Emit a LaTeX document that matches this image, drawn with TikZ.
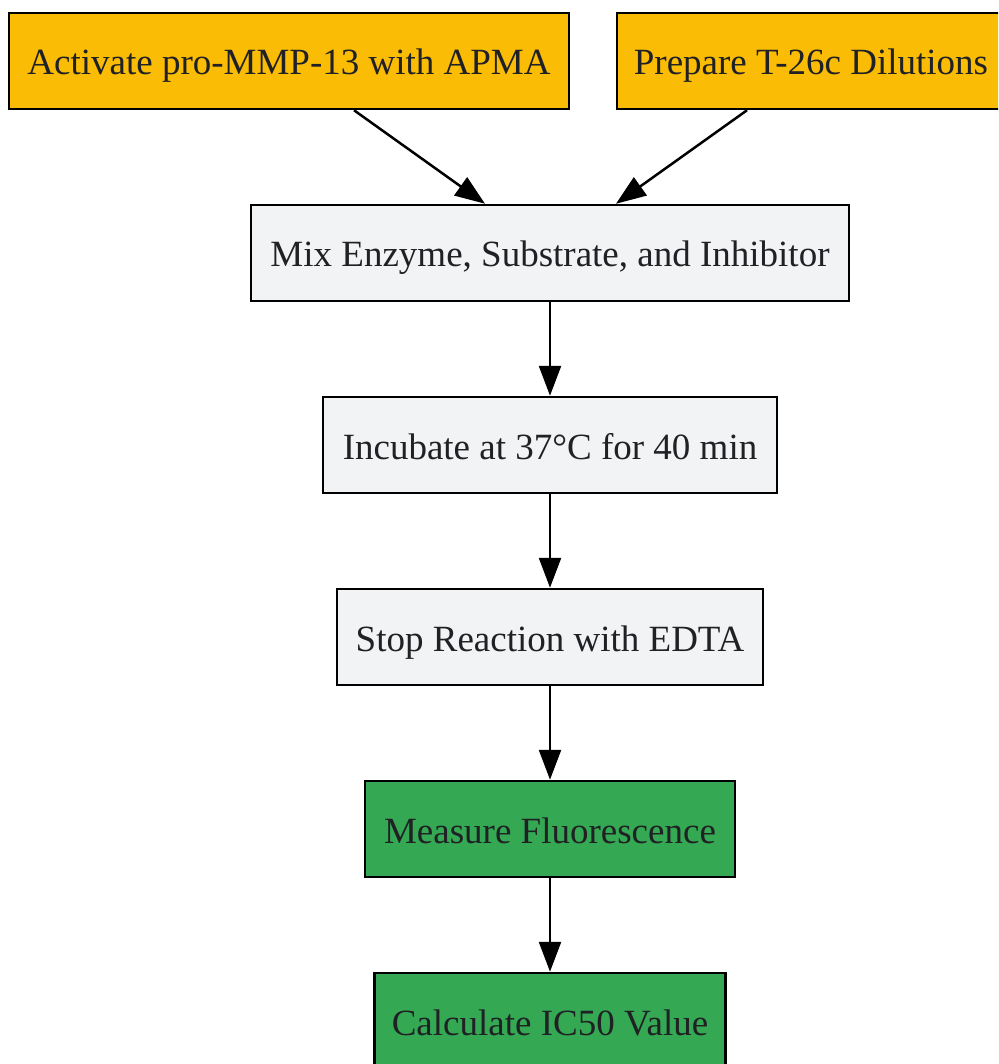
\documentclass[tikz,border=0pt]{standalone}
\usepackage{fontspec}
\setmainfont{Liberation Serif}
\usetikzlibrary{arrows.meta}
\definecolor{yel}{HTML}{FBBC05}
\definecolor{gry}{HTML}{F1F3F4}
\definecolor{grn}{HTML}{34A853}
\definecolor{txt}{HTML}{202124}
\tikzset{
  box/.style={draw=black, line width=2.5pt, rectangle, inner sep=0pt, minimum height=96pt, text height=33pt, text depth=5pt, text=txt, font=\fontsize{37}{44}\selectfont},
  conn/.style={draw=black, line width=2.5pt, -{Triangle[length=30pt,width=22pt]}}
}
\begin{document}
\begin{tikzpicture}[x=1pt,y=-1pt]
\useasboundingbox (0,0) rectangle (998,1064);
\clip (0,0) rectangle (998,1064);
\fill[white] (0,0) rectangle (998,1064);
\node[box, fill=yel, minimum width=560pt] (act) at (289,61) {Activate pro-MMP-13 with APMA};
\node[box, fill=yel, minimum width=388pt] (prep) at (811,61) {Prepare T-26c Dilutions};
\node[box, fill=gry, minimum width=598pt] (mix) at (550,253) {Mix Enzyme, Substrate, and Inhibitor};
\node[box, fill=gry, minimum width=454pt] (inc) at (550,445) {Incubate at 37°C for 40 min};
\node[box, fill=gry, minimum width=426pt] (stop) at (550,637) {Stop Reaction with EDTA};
\node[box, fill=grn, minimum width=370pt] (meas) at (550,829) {Measure Fluorescence};
\node[box, fill=grn, minimum width=351pt] (calc) at (550,1021) {Calculate IC50 Value};
\draw[conn] ([xshift=65pt]act.south) -- ([xshift=-65pt]mix.north);
\draw[conn] ([xshift=-64pt]prep.south) -- ([xshift=66pt]mix.north);
\draw[conn] (mix) -- (inc);
\draw[conn] (inc) -- (stop);
\draw[conn] (stop) -- (meas);
\draw[conn] (meas) -- (calc);
\end{tikzpicture}
\end{document}
